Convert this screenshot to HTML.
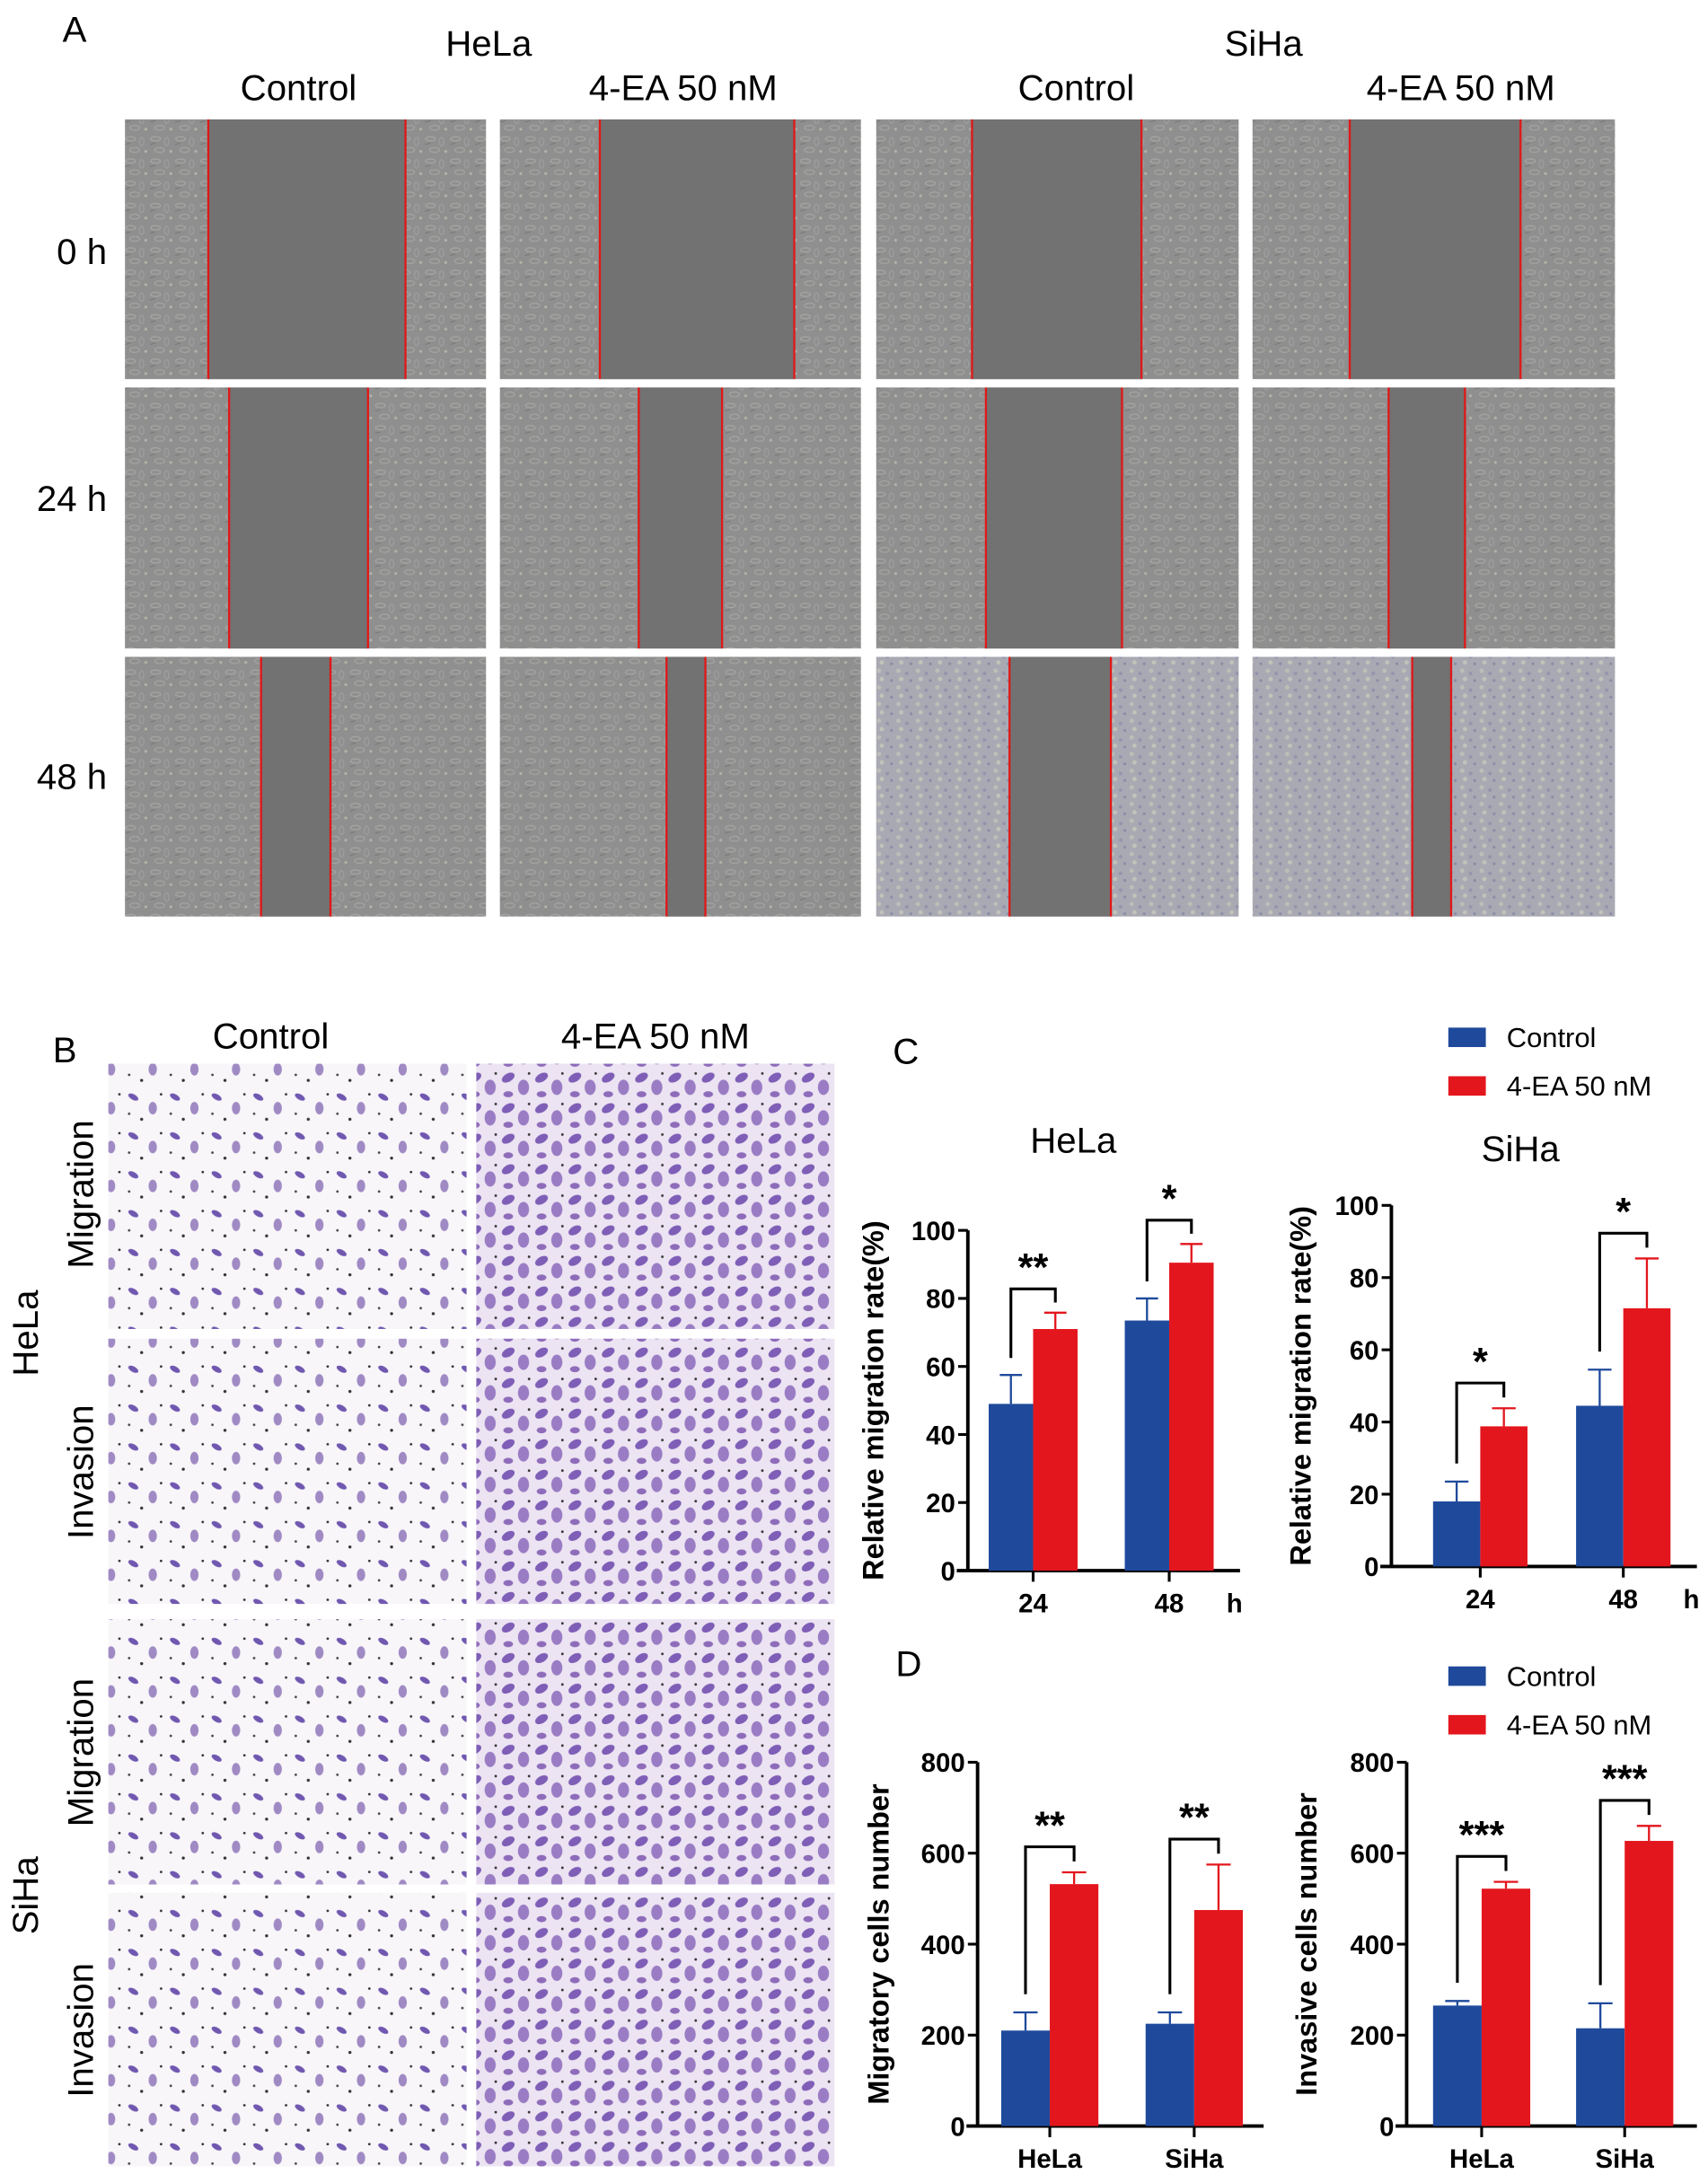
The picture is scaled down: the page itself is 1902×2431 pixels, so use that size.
<!DOCTYPE html>
<html><head><meta charset="utf-8"><style>
html,body{margin:0;padding:0;background:#fff;}
svg{display:block;font-family:"Liberation Sans",Arial,sans-serif;}
.lab{font-size:26px;fill:#000;}
.tick{font-size:19px;font-weight:bold;fill:#000;}
.ytitle{font-size:21px;font-weight:bold;fill:#000;}
</style></head><body>
<svg id="fig" width="1902" height="2431" viewBox="0 0 1230 1572" preserveAspectRatio="none" xmlns="http://www.w3.org/2000/svg">
<defs>
<pattern id="cellsG" width="18" height="16" patternUnits="userSpaceOnUse">
<rect width="18" height="16" fill="#8f8f8f"/>
<ellipse cx="4" cy="4" rx="3.5" ry="1.5" fill="none" stroke="#a6a6a2" stroke-width="0.8"/>
<ellipse cx="12" cy="6" rx="1.6" ry="3" fill="none" stroke="#9e9e9e" stroke-width="0.8"/>
<ellipse cx="7" cy="12" rx="3.5" ry="1.8" fill="none" stroke="#a4a4a0" stroke-width="0.8"/>
<circle cx="15" cy="13" r="1" fill="#b4b4aa"/>
<line x1="0" y1="8" x2="4" y2="7" stroke="#7a7a7a" stroke-width="0.8"/>
</pattern>
<pattern id="cellsB" width="14" height="12" patternUnits="userSpaceOnUse">
<rect width="14" height="12" fill="#a9a9b3"/>
<circle cx="3" cy="3" r="1.6" fill="#bebeb8"/>
<circle cx="9" cy="5" r="1.3" fill="#9494ac"/>
<circle cx="5" cy="9" r="1.6" fill="#c2c2ba"/>
<circle cx="12" cy="10" r="1" fill="#8a8aa6"/>
</pattern>
<pattern id="twLight" width="30" height="28" patternUnits="userSpaceOnUse">
<rect width="30" height="28" fill="#f8f6f9"/>
<ellipse cx="6" cy="6" rx="4" ry="2" fill="#7058b0" transform="rotate(30 6 6)"/>
<ellipse cx="20" cy="14" rx="3" ry="4.5" fill="#a08ac4"/>
<circle cx="12" cy="22" r="1.1" fill="#333"/>
<circle cx="26" cy="4" r="0.9" fill="#333"/>
<circle cx="3" cy="18" r="0.9" fill="#444"/>
</pattern>
<pattern id="twDense" width="24" height="22" patternUnits="userSpaceOnUse">
<rect width="24" height="22" fill="#ece4f2"/>
<ellipse cx="6" cy="6" rx="5" ry="3" fill="#7e5eb6" transform="rotate(-30 6 6)"/>
<ellipse cx="17" cy="13" rx="4" ry="5.5" fill="#9a7cc4"/>
<ellipse cx="6" cy="18" rx="3.5" ry="2.2" fill="#8e6cba"/>
<circle cx="21" cy="3" r="0.9" fill="#333"/>
</pattern>
</defs>

<g>
<text class="lab" x="45" y="30">A</text>
<text class="lab" x="352" y="40" text-anchor="middle">HeLa</text>
<text class="lab" x="910" y="40" text-anchor="middle">SiHa</text>
<text class="lab" x="215" y="72" text-anchor="middle">Control</text>
<text class="lab" x="492" y="72" text-anchor="middle">4-EA 50 nM</text>
<text class="lab" x="775" y="72" text-anchor="middle">Control</text>
<text class="lab" x="1052" y="72" text-anchor="middle">4-EA 50 nM</text>
<text class="lab" x="77" y="190" text-anchor="end">0 h</text>
<text class="lab" x="77" y="368" text-anchor="end">24 h</text>
<text class="lab" x="77" y="568" text-anchor="end">48 h</text>
</g>
<g id="woundImgs"></g>

<g>
<text class="lab" x="38" y="765">B</text>
<text class="lab" x="195" y="755" text-anchor="middle">Control</text>
<text class="lab" x="472" y="755" text-anchor="middle">4-EA 50 nM</text>
<text class="lab" transform="translate(67,860) rotate(-90)" text-anchor="middle">Migration</text>
<text class="lab" transform="translate(67,1060) rotate(-90)" text-anchor="middle">Invasion</text>
<text class="lab" transform="translate(67,1262) rotate(-90)" text-anchor="middle">Migration</text>
<text class="lab" transform="translate(67,1462) rotate(-90)" text-anchor="middle">Invasion</text>
<text class="lab" transform="translate(27,960) rotate(-90)" text-anchor="middle">HeLa</text>
<text class="lab" transform="translate(27,1365) rotate(-90)" text-anchor="middle">SiHa</text>
</g>
<g id="twImgs"></g>

<g>
<text class="lab" x="643" y="766">C</text>
<text class="lab" x="773" y="830" text-anchor="middle">HeLa</text>
<text class="lab" x="1095" y="836" text-anchor="middle">SiHa</text>
<text class="lab" x="645" y="1207">D</text>
<g>
<rect x="1043" y="740" width="27" height="14" fill="#1f4a9c"/>
<text x="1085" y="754" font-size="20">Control</text>
<rect x="1043" y="775" width="27" height="14" fill="#e3161d"/>
<text x="1085" y="789" font-size="20">4-EA 50 nM</text>
</g>
<g>
<rect x="1043" y="1200" width="27" height="14" fill="#1f4a9c"/>
<text x="1085" y="1214" font-size="20">Control</text>
<rect x="1043" y="1235" width="27" height="14" fill="#e3161d"/>
<text x="1085" y="1249" font-size="20">4-EA 50 nM</text>
</g>
</g>
<g id="charts"></g>
</svg>
<script>
const cHelaCats = ["24", "48"];
const cHelaCtrl = [49, 73.5];
const cHelaCtrlErr = [8.5, 6.5];
const cHelaTrt = [71, 90.5];
const cHelaTrtErr = [4.8, 5.5];
const cHelaTicks = [0, 20, 40, 60, 80, 100];
const cHelaSig = ["**", "*"];
const cSihaCats = ["24", "48"];
const cSihaCtrl = [18, 44.5];
const cSihaCtrlErr = [5.5, 10];
const cSihaTrt = [38.8, 71.5];
const cSihaTrtErr = [5, 13.8];
const cSihaTicks = [0, 20, 40, 60, 80, 100];
const cSihaSig = ["*", "*"];
const dMigCats = ["HeLa", "SiHa"];
const dMigCtrl = [210, 225];
const dMigCtrlErr = [40, 25];
const dMigTrt = [532, 475];
const dMigTrtErr = [26, 100];
const dMigTicks = [0, 200, 400, 600, 800];
const dMigSig = ["**", "**"];
const dInvCats = ["HeLa", "SiHa"];
const dInvCtrl = [265, 215];
const dInvCtrlErr = [10, 55];
const dInvTrt = [522, 627];
const dInvTrtErr = [15, 33];
const dInvTicks = [0, 200, 400, 600, 800];
const dInvSig = ["***", "***"];

const NS = "http://www.w3.org/2000/svg";
function mk(parent, tag, attrs){const e=document.createElementNS(NS,tag);for(const k in attrs)e.setAttribute(k,attrs[k]);parent.appendChild(e);return e;}

const woundCols = [[90,350],[360,620],[631,892],[902,1163]];
const woundRows = [[86,273],[279,467],[473,660]];
const woundGaps = [
 [[150,292],[432,572],[700,822],[972,1095]],
 [[165,265],[460,520],[710,808],[1000,1055]],
 [[188,238],[480,508],[727,800],[1017,1045]]];
const wg = document.getElementById('woundImgs');
woundRows.forEach((r,ri)=>{woundCols.forEach((c,ci)=>{
  const fillId = (ci>=2 && ri===2) ? 'url(#cellsB)' : 'url(#cellsG)';
  const im = mk(wg,'rect',{x:c[0],y:r[0],width:c[1]-c[0],height:r[1]-r[0],fill:fillId});
  
  
  const g = woundGaps[ri][ci];
  const gap = mk(wg,'rect',{x:g[0],y:r[0],width:g[1]-g[0],height:r[1]-r[0],fill:'#727272'});
  
  
  [g[0],g[1]].forEach(x=>{
    const l = mk(wg,'line',{x1:x,y1:r[0],x2:x,y2:r[1],stroke:'#e01818','stroke-width':1.5});
    
    
  });
});});

const twCols = [[78,336],[343,601]];
const twRows = [[766,957],[964,1155],[1166,1357],[1363,1560]];
const tw = document.getElementById('twImgs');
twRows.forEach(r=>{twCols.forEach((c,ci)=>{
  const im = mk(tw,'rect',{x:c[0],y:r[0],width:c[1]-c[0],height:r[1]-r[0],fill: ci===0?'url(#twLight)':'url(#twDense)'});
  
  
});});

function drawChart(cfg){
  const g = mk(document.getElementById('charts'),'g',{});
  
  
  const yS = v => cfg.y0 - (v/cfg.max)*(cfg.y0-cfg.yTop);
  const bw = cfg.bw;
  const ya = mk(g,'line',{x1:cfg.ax,y1:cfg.yTop,x2:cfg.ax,y2:cfg.y0,stroke:'#000','stroke-width':2.5});
   
  const xa = mk(g,'line',{x1:cfg.ax-8,y1:cfg.y0,x2:cfg.axEnd,y2:cfg.y0,stroke:'#000','stroke-width':2.5});
   
  cfg.ticks.forEach(t=>{
    const y=yS(t);
    const tl = mk(g,'line',{x1:cfg.ax-7,y1:y,x2:cfg.ax,y2:y,stroke:'#000','stroke-width':2});
     
    const tt = mk(g,'text',{x:cfg.ax-9,y:y+7,'text-anchor':'end',class:'tick'});
    tt.textContent=t;
     
  });
  const yt = mk(g,'text',{transform:`translate(${cfg.titleX},${(cfg.y0+cfg.yTop)/2}) rotate(-90)`,'text-anchor':'middle',class:'ytitle'});
  yt.textContent = cfg.title;
   
  cfg.cats.forEach((cat,i)=>{
    const cx = cfg.c0 + i*cfg.step;
    const series = [[cfg.ctrl[i],cfg.ctrlErr[i],'#1f4a9c',cx-bw,'bar-control'],[cfg.trt[i],cfg.trtErr[i],'#e3161d',cx,'bar-4ea']];
    series.forEach(s=>{
      const top=yS(s[0]);
      const b = mk(g,'rect',{x:s[3],y:top,width:bw,height:cfg.y0-top,fill:s[2]});
       
      const ec = s[3]+bw/2, et=yS(s[0]+s[1]);
      const e1 = mk(g,'line',{x1:ec,y1:top,x2:ec,y2:et,stroke:s[2],'stroke-width':1.5});
       
      const e2 = mk(g,'line',{x1:ec-bw/4,y1:et,x2:ec+bw/4,y2:et,stroke:s[2],'stroke-width':1.5});
       
    });
    const xt = mk(g,'line',{x1:cx,y1:cfg.y0,x2:cx,y2:cfg.y0+8,stroke:'#000','stroke-width':2});
     
    const xl = mk(g,'text',{x:cx,y:cfg.y0+30,'text-anchor':'middle',class:'tick'});
    xl.textContent=cat;
     
    const lx = cx-bw/2, rx = cx+bw/2;
    const lTop = cfg.ctrl[i]+cfg.ctrlErr[i], rTop = cfg.trt[i]+cfg.trtErr[i];
    const bTop = Math.max(lTop,rTop) + cfg.max*0.07;
    const br = mk(g,'polyline',{points:`${lx},${yS(lTop+cfg.max*0.05)} ${lx},${yS(bTop)} ${rx},${yS(bTop)} ${rx},${yS(rTop+cfg.max*0.03)}`,fill:'none',stroke:'#000','stroke-width':2});
     
    const st = mk(g,'text',{x:cx,y:yS(bTop)-6,'text-anchor':'middle','font-size':28,'font-weight':'bold'});
    st.textContent = cfg.sig[i];
     
  });
  if(cfg.unit){
    const u = mk(g,'text',{x:cfg.axEnd-4,y:cfg.y0+30,'text-anchor':'middle',class:'tick'});
    u.textContent=cfg.unit;
     
  }
}
drawChart({name:'chart-c-hela',cats:cHelaCats,ctrl:cHelaCtrl,ctrlErr:cHelaCtrlErr,trt:cHelaTrt,trtErr:cHelaTrtErr,ticks:cHelaTicks,sig:cHelaSig,max:100,ax:697,axEnd:893,y0:1131,yTop:886,c0:744,step:98,bw:32,title:'Relative migration rate(%)',titleX:636,unit:'h'});
drawChart({name:'chart-c-siha',cats:cSihaCats,ctrl:cSihaCtrl,ctrlErr:cSihaCtrlErr,trt:cSihaTrt,trtErr:cSihaTrtErr,ticks:cSihaTicks,sig:cSihaSig,max:100,ax:1002,axEnd:1222,y0:1128,yTop:868,c0:1066,step:103,bw:34,title:'Relative migration rate(%)',titleX:944,unit:'h'});
drawChart({name:'chart-d-migratory',cats:dMigCats,ctrl:dMigCtrl,ctrlErr:dMigCtrlErr,trt:dMigTrt,trtErr:dMigTrtErr,ticks:dMigTicks,sig:dMigSig,max:800,ax:704,axEnd:910,y0:1531,yTop:1269,c0:756,step:104,bw:35,title:'Migratory cells number',titleX:640});
drawChart({name:'chart-d-invasive',cats:dInvCats,ctrl:dInvCtrl,ctrlErr:dInvCtrlErr,trt:dInvTrt,trtErr:dInvTrtErr,ticks:dInvTicks,sig:dInvSig,max:800,ax:1013,axEnd:1222,y0:1531,yTop:1269,c0:1067,step:103,bw:35,title:'Invasive cells number',titleX:948});
</script>
</body></html>
